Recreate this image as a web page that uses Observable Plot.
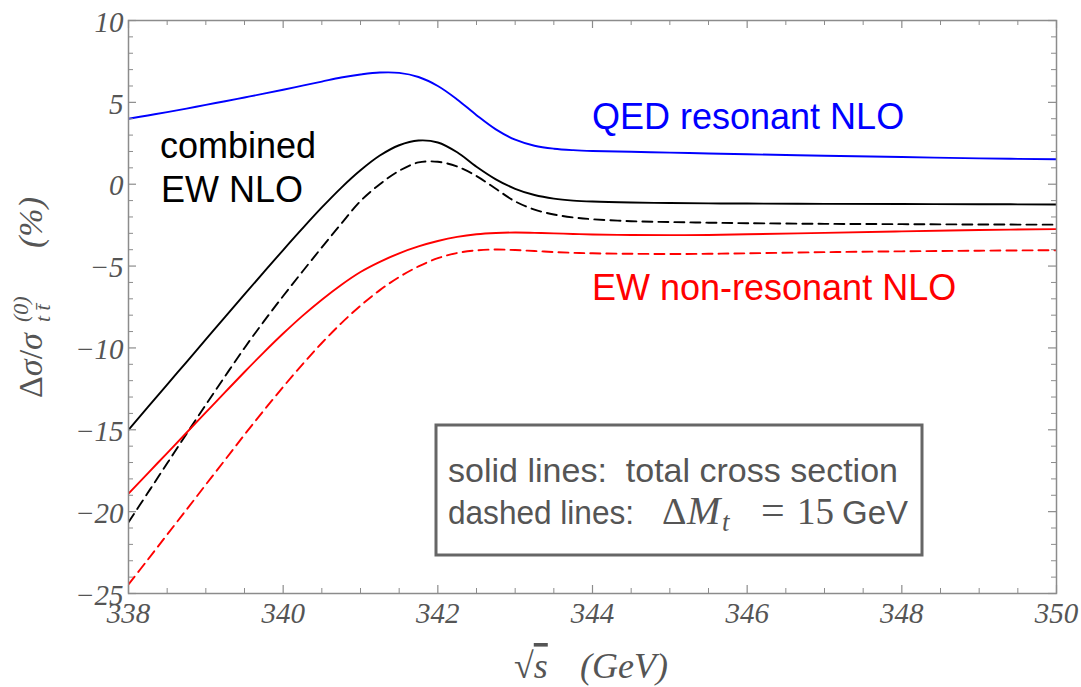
<!DOCTYPE html>
<html><head><meta charset="utf-8">
<script src="https://cdn.jsdelivr.net/npm/d3@7"></script>
<script src="https://cdn.jsdelivr.net/npm/@observablehq/plot@0.6"></script>
<style>body{margin:0;background:#fff}</style>
</head><body><div id="chart"></div>
<script>
// Data
const sqrtS = [338,338.25,338.5,338.75,339,339.25,339.5,339.75,340,340.25,340.5,340.75,341,341.25,341.5,341.75,342,342.25,342.5,342.75,343,343.25,343.5,343.75,344,344.5,345,345.5,346,347,348,349,350];
const qedResonant   = [4.0,4.2,4.4,4.62,4.85,5.07,5.3,5.53,5.77,6.02,6.27,6.52,6.7,6.82,6.8,6.55,6.0,5.18,4.22,3.35,2.72,2.35,2.17,2.08,2.03,1.98,1.93,1.88,1.83,1.74,1.66,1.58,1.52];
const combinedTotal = [-15.0,-13.62,-12.24,-10.86,-9.48,-8.1,-6.73,-5.37,-4.02,-2.7,-1.42,-0.22,0.85,1.75,2.38,2.67,2.55,1.95,1.07,0.3,-0.28,-0.66,-0.88,-1.0,-1.06,-1.12,-1.15,-1.17,-1.18,-1.2,-1.21,-1.22,-1.24];
const combinedCut   = [-20.65,-18.85,-17.05,-15.25,-13.47,-11.72,-10.0,-8.38,-6.83,-5.33,-3.86,-2.42,-1.03,0.0,0.82,1.33,1.37,1.08,0.5,-0.28,-1.05,-1.55,-1.85,-2.03,-2.14,-2.26,-2.31,-2.35,-2.38,-2.42,-2.44,-2.46,-2.47];
const nonResTotal   = [-18.9,-17.66,-16.42,-15.18,-13.94,-12.7,-11.47,-10.27,-9.12,-8.04,-7.05,-6.15,-5.36,-4.74,-4.22,-3.8,-3.47,-3.22,-3.06,-2.98,-2.95,-2.97,-3.0,-3.04,-3.07,-3.1,-3.11,-3.1,-3.06,-2.97,-2.88,-2.8,-2.74];
const nonResCut     = [-24.45,-22.93,-21.4,-19.88,-18.35,-16.83,-15.3,-13.82,-12.38,-11.0,-9.7,-8.5,-7.42,-6.47,-5.67,-5.02,-4.52,-4.2,-4.04,-3.99,-4.02,-4.08,-4.14,-4.19,-4.22,-4.25,-4.26,-4.25,-4.22,-4.15,-4.1,-4.06,-4.03];

const xMajor = [338,340,342,344,346,348,350];
const xMinor = [338.5,339,339.5,340.5,341,341.5,342.5,343,343.5,344.5,345,345.5,346.5,347,347.5,348.5,349,349.5];
const yMajor = [10,5,0,-5,-10,-15,-20,-25];
const yMinor = [9,8,7,6,4,3,2,1,-1,-2,-3,-4,-6,-7,-8,-9,-11,-12,-13,-14,-16,-17,-18,-19,-21,-22,-23,-24];

const W = 1081, H = 687, mL = 128, mT = 20, mR = 25, mB = 94;
const fw = W - mL - mR, fh = H - mT - mB;
const frameColor = "#8c8c8c", textColor = "#555";

const rows = arr => sqrtS.map((s, i) => ({s, v: arr[i]}));
const lineOpts = (stroke, dash) => ({x: "s", y: "v", stroke, strokeWidth: 1.9, curve: "catmull-rom", clip: true, strokeDasharray: dash});
const minus = d => d < 0 ? "\u2212" + (-d) : String(d);

const plot = Plot.plot({
  width: W, height: H,
  marginLeft: mL, marginRight: mR, marginTop: mT, marginBottom: mB,
  x: {domain: [338, 350]},
  y: {domain: [-25, 10]},
  marks: [
    Plot.line(rows(qedResonant), lineOpts("#0000ff")),
    Plot.line(rows(combinedTotal), lineOpts("#000000")),
    Plot.line(rows(combinedCut), lineOpts("#000000", "10,6")),
    Plot.line(rows(nonResTotal), lineOpts("#ff0000")),
    Plot.line(rows(nonResCut), lineOpts("#ff0000", "10,6")),
    Plot.frame({stroke: frameColor, strokeWidth: 1.5}),
    // inward ticks on all four sides
    Plot.tickX(xMajor, {x: d => d, insetTop: fh - 8, stroke: frameColor, strokeWidth: 1.2}),
    Plot.tickX(xMinor, {x: d => d, insetTop: fh - 5, stroke: frameColor, strokeWidth: 1}),
    Plot.tickX(xMajor, {x: d => d, insetBottom: fh - 8, stroke: frameColor, strokeWidth: 1.2}),
    Plot.tickX(xMinor, {x: d => d, insetBottom: fh - 5, stroke: frameColor, strokeWidth: 1}),
    Plot.tickY(yMajor, {y: d => d, insetRight: fw - 8, stroke: frameColor, strokeWidth: 1.2}),
    Plot.tickY(yMinor, {y: d => d, insetRight: fw - 5, stroke: frameColor, strokeWidth: 1}),
    Plot.tickY(yMajor, {y: d => d, insetLeft: fw - 8, stroke: frameColor, strokeWidth: 1.2}),
    Plot.tickY(yMinor, {y: d => d, insetLeft: fw - 5, stroke: frameColor, strokeWidth: 1}),
    Plot.axisX(xMajor, {tickSize: 0, tickPadding: 9, fontSize: 29, fontStyle: "italic", fontFamily: "Liberation Serif", color: textColor, label: null, tickFormat: d => String(d)}),
    Plot.axisY(yMajor, {tickSize: 0, tickPadding: 5, fontSize: 29, fontStyle: "italic", fontFamily: "Liberation Serif", color: textColor, label: null, tickFormat: minus, dy: 2})
  ]
});
document.getElementById("chart").appendChild(plot);

// Annotations
const svg = d3.select(plot);
const ann = svg.append("g").attr("font-family", "Liberation Sans").attr("text-anchor", "start");
ann.append("text").attr("x", 592).attr("y", 129).attr("font-size", 36).attr("fill", "#0000ff").text("QED resonant NLO");
ann.append("text").attr("x", 592).attr("y", 300).attr("font-size", 36).attr("fill", "#ff0000").text("EW non-resonant NLO");
ann.append("text").attr("x", 160).attr("y", 158).attr("font-size", 36).attr("fill", "#000").text("combined");
ann.append("text").attr("x", 161).attr("y", 202).attr("font-size", 36).attr("fill", "#000").text("EW NLO");

// legend box
ann.append("rect").attr("x", 436).attr("y", 425).attr("width", 486).attr("height", 130)
  .attr("fill", "#fff").attr("stroke", "#666").attr("stroke-width", 3);
ann.append("text").attr("x", 448).attr("y", 482).attr("font-size", 34).attr("fill", textColor)
  .attr("textLength", 450).attr("lengthAdjust", "spacing").text("solid lines:\u00A0 total cross section");
ann.append("text").attr("x", 448).attr("y", 524).attr("font-size", 34).attr("fill", textColor)
  .attr("textLength", 186).attr("lengthAdjust", "spacingAndGlyphs").text("dashed lines:");
const l2 = ann.append("text").attr("x", 662).attr("y", 524).attr("fill", textColor).attr("font-family", "Liberation Serif");
l2.append("tspan").attr("font-size", 38).text("\u0394");
l2.append("tspan").attr("x", 687).attr("font-style", "italic").attr("font-size", 40).text("M");
l2.append("tspan").attr("x", 722).attr("font-style", "italic").attr("font-size", 27).attr("dy", 7).text("t");
l2.append("tspan").attr("x", 761).attr("dy", -7).attr("font-size", 42).text("=");
l2.append("tspan").attr("x", 797).attr("font-size", 37).text("15");
l2.append("tspan").attr("x", 842).attr("font-family", "Liberation Sans").attr("font-size", 33).text("GeV");

// x-axis label
const xl = svg.append("text").attr("x", 514).attr("y", 678).attr("text-anchor", "start").attr("font-family", "Liberation Serif").attr("font-size", 36).attr("fill", textColor);
xl.append("tspan").text("\u221A");
xl.append("tspan").attr("font-style", "italic").attr("text-decoration", "overline").text("s");
xl.append("tspan").attr("x", 580).attr("font-style", "italic").text("(GeV)");

// y-axis label (rotated)
const yl = svg.append("text").attr("transform", "translate(42,398) rotate(-90)").attr("text-anchor", "start").attr("font-family", "Liberation Serif").attr("font-size", 34).attr("fill", textColor);
yl.append("tspan").text("\u0394");
yl.append("tspan").attr("font-style", "italic").text("\u03C3");
yl.append("tspan").text("/");
yl.append("tspan").attr("font-style", "italic").text("\u03C3");
yl.append("tspan").attr("x", 76).attr("dy", -14).attr("font-size", 22).attr("font-style", "italic").text("(0)");
yl.append("tspan").attr("x", 76).attr("dy", 22).attr("font-size", 22).attr("font-style", "italic").text("t t\u0304");
yl.append("tspan").attr("x", 150).attr("dy", -8).attr("font-style", "italic").text("(%)");
</script>
</body></html>
